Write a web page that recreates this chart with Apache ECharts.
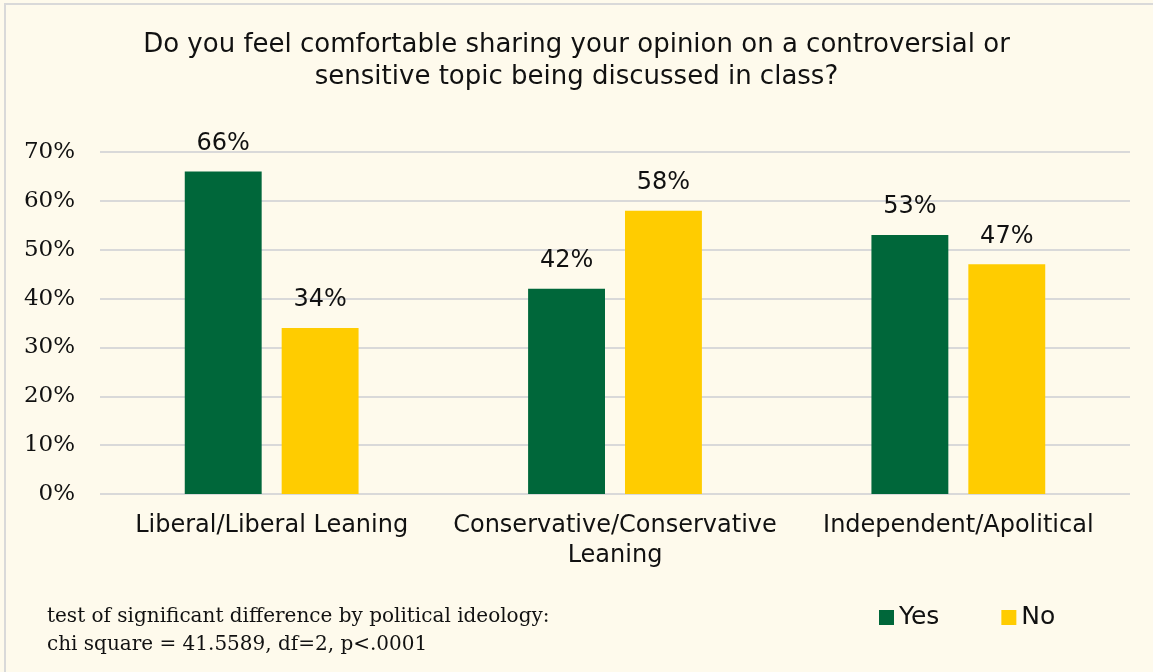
<!DOCTYPE html>
<html>
<head>
<meta charset="utf-8">
<script src="https://cdn.jsdelivr.net/npm/echarts@6/dist/echarts.min.js"></script>
<style>
  html, body { margin: 0; padding: 0; background: #fefaec; }
  #chart { width: 1153px; height: 672px; }
</style>
</head>
<body>
<div id="chart"></div>
<script>
// Share of students comfortable sharing an opinion, by political ideology
const categories = ['Liberal/Liberal Leaning', 'Conservative/Conservative\nLeaning', 'Independent/Apolitical'];
const yesValues = [66, 42, 53];
const noValues = [34, 58, 47];
const yTicks = [0, 10, 20, 30, 40, 50, 60, 70];

const titleText = 'Do you feel comfortable sharing your opinion on a controversial or\nsensitive topic being discussed in class?';
const noteText = 'test of significant difference by political ideology:\nchi square = 41.5589, df=2, p<.0001';

const sans = '"DejaVu Sans", "Noto Sans", sans-serif';
const serif = '"DejaVu Serif", "Liberation Serif", serif';

const chart = echarts.init(document.getElementById('chart'));

const labelStyle = {
  show: true,
  position: 'top',
  distance: 16,
  formatter: p => p.value + '%',
  color: '#111',
  fontFamily: sans,
  fontSize: 24,
  fontWeight: 'normal'
};

chart.setOption({
  backgroundColor: '#fefaec',
  animation: false,
  title: {
    text: titleText,
    left: 'center',
    top: 29,
    padding: 0,
    textStyle: {
      fontFamily: sans,
      fontSize: 26,
      fontWeight: 'normal',
      color: '#111',
      lineHeight: 32,
      align: 'center'
    }
  },
  legend: {
    data: ['Yes', 'No'],
    left: 879,
    top: 605,
    padding: 0,
    itemWidth: 15,
    itemHeight: 15,
    itemGap: 62,
    icon: 'rect',
    textStyle: { fontFamily: sans, fontSize: 25, color: '#111' }
  },
  graphic: [
    {
      type: 'rect',
      shape: { x: 5, y: 4, width: 1200, height: 720 },
      style: { fill: 'none', stroke: '#d9d9d9', lineWidth: 2 },
      silent: true
    },
    {
      type: 'text',
      left: 47,
      top: 603,
      style: {
        text: noteText,
        fontFamily: serif,
        fontSize: 20,
        lineHeight: 28,
        fill: '#111'
      }
    }
  ],
  grid: { left: 100, right: 23, top: 152, bottom: 178, containLabel: false },
  xAxis: {
    type: 'category',
    data: categories,
    axisLine: { show: false },
    axisTick: { show: false },
    axisLabel: {
      margin: 17,
      interval: 0,
      fontFamily: sans,
      fontSize: 24,
      lineHeight: 30,
      color: '#111'
    }
  },
  yAxis: {
    type: 'value',
    min: 0,
    max: 70,
    interval: 10,
    axisLine: { show: false },
    axisTick: { show: false },
    splitLine: { lineStyle: { color: '#d9d9d9', width: 2 } },
    axisLabel: {
      margin: 25,
      formatter: v => (yTicks.includes(v) ? v + '%' : ''),
      fontFamily: serif,
      fontSize: 23,
      color: '#111'
    }
  },
  series: [
    {
      name: 'Yes',
      type: 'bar',
      data: yesValues,
      barWidth: '22.4%',
      barGap: '26%',
      itemStyle: { color: '#00673a' },
      label: labelStyle
    },
    {
      name: 'No',
      type: 'bar',
      data: noValues,
      barWidth: '22.4%',
      itemStyle: { color: '#ffcc00' },
      label: labelStyle
    }
  ]
});
</script>
</body>
</html>
